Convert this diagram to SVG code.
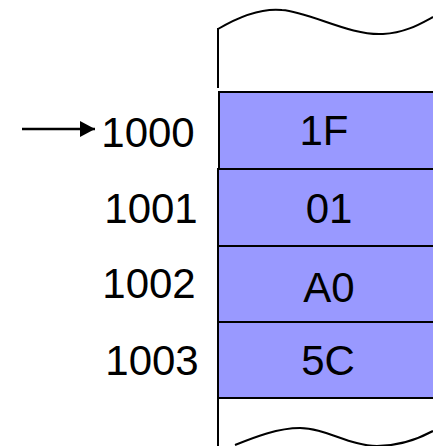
<svg xmlns="http://www.w3.org/2000/svg" width="433" height="446" viewBox="0 0 433 446">
<style>
.cell{fill:#9999FF;stroke:#000;stroke-width:2}
.ln{fill:none;stroke:#000;stroke-width:2}
text{font-family:"Liberation Sans",Arial,sans-serif;font-size:42px;fill:#000;text-anchor:middle}
</style>
<defs>
<marker id="ah" markerWidth="15" markerHeight="16" refX="15" refY="8" orient="auto" markerUnits="userSpaceOnUse" viewBox="0 0 15 16">
<path d="M0,0 L15,8 L0,16 Z" fill="#000"/>
</marker>
</defs>
<rect width="433" height="446" fill="#fff"/>
<g id="frame">
<path class="ln" d="M218,29 C240,16 262,8 282,10 C310,12 350,36 383,34 C405,33 420,24 433,17"/>
<line class="ln" x1="218" y1="28" x2="218" y2="88"/>
<line class="ln" x1="218" y1="398" x2="218" y2="446"/>
<path class="ln" d="M235,445 C255,437 278,428 300,428 C325,428 350,446 377,446 C400,446 420,438 433,431"/>
</g>
<g id="cell-1000">
<rect class="cell" x="219" y="92" width="220" height="77"/>
<text x="324" y="145">1F</text>
</g>
<g id="cell-1001">
<rect class="cell" x="218" y="169" width="220" height="77"/>
<text x="329" y="223">01</text>
</g>
<g id="cell-1002">
<rect class="cell" x="218" y="246" width="220" height="76"/>
<text x="329" y="302">A0</text>
</g>
<g id="cell-1003">
<rect class="cell" x="218" y="322" width="220" height="76"/>
<text x="328" y="375">5C</text>
</g>
<g id="labels">
<text x="148" y="147">1000</text>
<text x="151" y="223">1001</text>
<text x="149" y="298">1002</text>
<text x="152" y="375">1003</text>
</g>
<g id="connectors">
<line x1="22" y1="129" x2="95" y2="129" stroke="#000" stroke-width="2.5" marker-end="url(#ah)"/>
</g>
</svg>
